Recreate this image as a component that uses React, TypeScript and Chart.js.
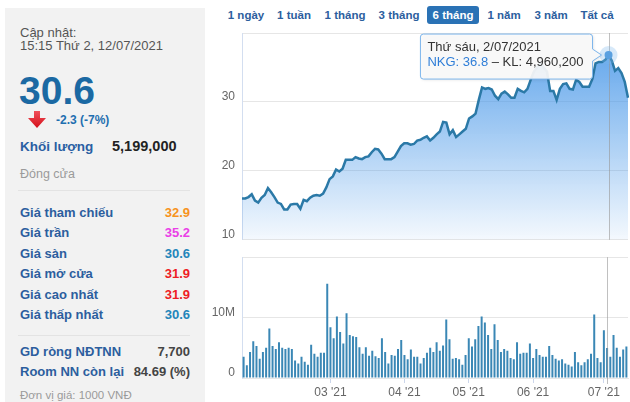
import React, { useEffect, useRef } from 'react';
import { Chart, registerables } from 'chart.js';

Chart.register(...registerables);

const FONT = '"Liberation Sans", Arial, Helvetica, sans-serif';

// ---------- data ----------
const YEAR = 2021;
const TICKER = 'NKG';
const JAN = [14, 15, 18, 19, 20, 21, 22, 25, 26, 27, 28, 29];
const FEB = [1, 2, 3, 4, 5, 8, 9, 17, 18, 19, 22, 23, 24, 25, 26];
const MAR = [1, 2, 3, 4, 5, 8, 9, 10, 11, 12, 15, 16, 17, 18, 19, 22, 23, 24, 25, 26, 29, 30, 31];
const APR = [1, 2, 5, 6, 7, 8, 9, 12, 13, 14, 15, 16, 19, 20, 22, 23, 26, 27, 28, 29];
const MAY = [4, 5, 6, 7, 10, 11, 12, 13, 14, 17, 18, 19, 20, 21, 24, 25, 26, 27, 28, 31];
const JUN = [1, 2, 3, 4, 7, 8, 9, 10, 11, 14, 15, 16, 17, 18, 21, 22, 23, 24, 25, 28, 29, 30];
const JUL = [1, 2, 5, 6, 7, 8, 9, 12];
const MONTH_DAYS: [number, number[]][] = [[1, JAN], [2, FEB], [3, MAR], [4, APR], [5, MAY], [6, JUN], [7, JUL]];

const PRICE = [
  16.0, 16.0, 16.2, 16.6, 15.7, 15.4, 16.1, 16.5, 17.5, 16.9,
  16.2, 15.4, 15.2, 14.4, 14.4, 15.1, 15.2, 15.2, 14.5, 15.8,
  15.6, 16.1, 16.4, 16.5, 16.4, 16.7, 17.6, 18.8, 19.2, 20.2,
  19.9, 20.3, 21.6, 21.6, 21.6, 22.0, 21.8, 21.7, 22.0, 22.1,
  22.7, 23.2, 23.1, 22.5, 21.7, 21.7, 21.7, 22.0, 22.8, 23.6,
  24.0, 24.0, 23.8, 23.9, 24.4, 24.5, 24.8, 25.0, 24.4, 24.8,
  25.3, 25.7, 27.1, 27.0, 25.3, 25.9, 24.9, 25.3, 25.7, 26.1,
  27.6, 27.9, 28.3, 30.3, 32.1, 31.9, 32.0, 31.8, 30.9, 30.4,
  31.2, 31.5, 31.1, 30.6, 30.6, 31.9, 31.6, 31.4, 31.9, 33.2,
  34.4, 35.0, 35.6, 35.0, 34.4, 31.6, 31.6, 30.3, 31.9, 32.6,
  32.7, 31.9, 31.8, 33.2, 32.9, 32.2, 32.2, 32.2, 33.3, 35.6,
  35.8, 35.8, 36.1, 36.8, 36.0, 34.5, 34.9, 34.2, 32.9, 30.6,
];

const VOLUME_M = [
  3.5, 2.1, 4.3, 6.1, 5.3, 3.2, 4.3, 5.0, 8.2, 5.3,
  4.8, 5.9, 5.0, 4.8, 5.0, 4.8, 2.9, 2.4, 3.5, 2.7,
  2.2, 5.5, 4.0, 3.5, 4.2, 4.2, 15.6, 8.4, 6.6, 10.2,
  7.6, 5.7, 10.7, 7.1, 6.9, 6.8, 5.1, 4.0, 5.1, 3.7,
  4.5, 3.6, 3.3, 6.6, 4.3, 2.4, 3.8, 3.7, 4.8, 6.3,
  3.8, 3.1, 4.7, 3.5, 3.5, 2.4, 3.3, 4.2, 5.0, 4.3,
  5.9, 4.5, 5.4, 9.7, 6.4, 3.2, 3.3, 3.1, 2.2, 3.8,
  6.6, 5.2, 6.4, 8.6, 10.2, 9.2, 7.1, 4.8, 8.9, 6.3,
  4.3, 4.8, 4.5, 3.3, 3.1, 5.9, 4.0, 4.2, 4.2, 5.7,
  3.3, 4.8, 3.8, 3.5, 3.5, 5.3, 3.8, 3.2, 2.9, 3.1,
  2.4, 2.2, 1.9, 4.3, 2.6, 2.1, 2.6, 3.1, 4.0, 10.5,
  3.3, 2.6, 7.9, 4.9602, 3.5, 7.1, 5.0, 3.5, 4.7, 5.2,
];

const PRICE_TICKS = [10, 20, 30];
const VOLUME_TICKS_M = [0, 10];
const MONTH_LABELS: Record<number, string> = { 3: "03 '21", 4: "04 '21", 5: "05 '21", 6: "06 '21", 7: "07 '21" };
const HOVER_MONTH = 7;
const HOVER_DAY = 2;
const DAY_NAMES = ['Chủ nhật', 'Thứ hai', 'Thứ ba', 'Thứ tư', 'Thứ năm', 'Thứ sáu', 'Thứ bảy'];

const RANGE_BUTTONS = ['1 ngày', '1 tuần', '1 tháng', '3 tháng', '6 tháng', '1 năm', '3 năm', 'Tất cả'];
const RANGE_SELECTED = '6 tháng';

const INFO_ROWS: [string, string, string][] = [
  ['Giá tham chiếu', '32.9', '#f7931e'],
  ['Giá trần', '35.2', '#ea3fe6'],
  ['Giá sàn', '30.6', '#2385ba'],
  ['Giá mở cửa', '31.9', '#ee1c25'],
  ['Giá cao nhất', '31.9', '#ee1c25'],
  ['Giá thấp nhất', '30.6', '#2385ba'],
];
const FOREIGN_ROWS: [string, string][] = [
  ['GD ròng NĐTNN', '7,700'],
  ['Room NN còn lại', '84.69 (%)'],
];

// ---------- derived ----------
const POINTS = MONTH_DAYS.flatMap(([m, days]) => days.map((d) => ({ m, d })));
const LABELS = POINTS.map((p) => `${p.d}/${String(p.m).padStart(2, '0')}/${YEAR}`);
const TICK_LABELS = POINTS.map((p, i) =>
  (i === 0 || POINTS[i - 1].m !== p.m) && MONTH_LABELS[p.m] ? MONTH_LABELS[p.m] : ''
);
const HOVER_INDEX = POINTS.findIndex((p) => p.m === HOVER_MONTH && p.d === HOVER_DAY);

const LINE_COLOR = '#2b79a7';
const BAR_COLOR = '#3a87b5';

function roundRectCallout(ctx: CanvasRenderingContext2D, l: number, t: number, w: number, h: number, r: number, py: number, tipX: number) {
  const rr = l + w;
  const b = t + h;
  ctx.beginPath();
  ctx.moveTo(l + r, t);
  ctx.lineTo(rr - r, t);
  ctx.quadraticCurveTo(rr, t, rr, t + r);
  ctx.lineTo(rr, py - 6);
  ctx.lineTo(tipX, py);
  ctx.lineTo(rr, py + 6);
  ctx.lineTo(rr, b - r);
  ctx.quadraticCurveTo(rr, b, rr - r, b);
  ctx.lineTo(l + r, b);
  ctx.quadraticCurveTo(l, b, l, b - r);
  ctx.lineTo(l, t + r);
  ctx.quadraticCurveTo(l, t, l + r, t);
  ctx.closePath();
}

const pricePlugin = {
  id: 'priceHover',
  afterDatasetsDraw(chart: any) {
    const { ctx, chartArea: a } = chart;
    const el = chart.getDatasetMeta(0).data[HOVER_INDEX];
    if (!el) return;
    const x = el.x;
    const y = el.y;
    ctx.save();
    ctx.strokeStyle = 'rgba(150,150,150,0.6)';
    ctx.lineWidth = 1;
    ctx.beginPath();
    ctx.moveTo(Math.round(x) + 0.5, a.top);
    ctx.lineTo(Math.round(x) + 0.5, a.bottom);
    ctx.stroke();

    ctx.fillStyle = 'rgba(124,181,236,0.3)';
    ctx.beginPath();
    ctx.arc(x, y, 9, 0, Math.PI * 2);
    ctx.fill();
    ctx.fillStyle = '#5aa0e0';
    ctx.beginPath();
    ctx.arc(x, y, 4, 0, Math.PI * 2);
    ctx.fill();

    // tooltip
    const p = POINTS[HOVER_INDEX];
    const dow = new Date(YEAR, p.m - 1, p.d).getDay();
    const title = `${DAY_NAMES[dow]}, ${LABELS[HOVER_INDEX]}`;
    const part1 = `${TICKER}: ${PRICE[HOVER_INDEX]}`;
    const part2 = ` \u2013 KL: ${Math.round(VOLUME_M[HOVER_INDEX] * 1e6).toLocaleString('en-US')}`;
    ctx.font = `13px ${FONT}`;
    const w2 = ctx.measureText(part1).width + ctx.measureText(part2).width;
    const w1 = ctx.measureText(title).width;
    const bw = Math.max(w1, w2) + 16;
    const bh = 45;
    const right = x - 16;
    const left = right - bw;
    const top = Math.max(a.top + 1, y - 21);
    ctx.shadowColor = 'rgba(0,0,0,0.12)';
    ctx.shadowOffsetX = 1;
    ctx.shadowOffsetY = 1;
    ctx.shadowBlur = 3;
    roundRectCallout(ctx, left, top, bw, bh, 3, y, x - 7);
    ctx.fillStyle = 'rgba(250,250,250,0.92)';
    ctx.fill();
    ctx.shadowColor = 'transparent';
    ctx.strokeStyle = '#7cb5ec';
    ctx.lineWidth = 1;
    ctx.stroke();

    ctx.textBaseline = 'middle';
    ctx.textAlign = 'left';
    ctx.fillStyle = '#333333';
    ctx.fillText(title, left + 7, top + 13.5);
    ctx.fillStyle = '#2f7ed8';
    ctx.fillText(part1, left + 7, top + 28.5);
    const pw = ctx.measureText(part1).width;
    ctx.fillStyle = '#333333';
    ctx.fillText(part2, left + 7 + pw, top + 28.5);
    ctx.restore();
  },
};

const volumePlugin = {
  id: 'volumeHover',
  afterDatasetsDraw(chart: any) {
    const { ctx, chartArea: a } = chart;
    const el = chart.getDatasetMeta(0).data[HOVER_INDEX];
    if (!el) return;
    ctx.save();
    ctx.strokeStyle = 'rgba(150,150,150,0.6)';
    ctx.lineWidth = 1;
    ctx.beginPath();
    ctx.moveTo(Math.round(el.x) + 0.5, a.top);
    ctx.lineTo(Math.round(el.x) + 0.5, a.bottom + 6);
    ctx.stroke();
    ctx.restore();
  },
};

function Txt(props: { x: number; y: number; size: number; color: string; bold?: boolean; right?: boolean; children: React.ReactNode }) {
  const h = Math.round(props.size * 1.3);
  const style: React.CSSProperties = {
    position: 'absolute',
    top: props.y - h / 2,
    height: h,
    lineHeight: `${h}px`,
    fontSize: props.size,
    color: props.color,
    fontWeight: props.bold ? 'bold' : 'normal',
    whiteSpace: 'nowrap',
  };
  if (props.right) style.right = 630 - props.x;
  else style.left = props.x;
  return <div style={style}>{props.children}</div>;
}

export default function App() {
  const priceRef = useRef<HTMLCanvasElement | null>(null);
  const volRef = useRef<HTMLCanvasElement | null>(null);

  useEffect(() => {
    if (!priceRef.current || !volRef.current) return;
    const priceChart = new Chart(priceRef.current, {
      type: 'line',
      data: {
        labels: LABELS,
        datasets: [
          {
            data: PRICE,
            borderColor: LINE_COLOR,
            borderWidth: 2.5,
            pointRadius: 0,
            tension: 0,
            fill: 'start',
            backgroundColor: (c: any) => {
              const a = c.chart.chartArea;
              if (!a) return 'rgba(74,152,232,0.4)';
              const g = c.chart.ctx.createLinearGradient(0, a.top, 0, a.bottom);
              g.addColorStop(0, 'rgba(70,150,232,0.9)');
              g.addColorStop(1, 'rgba(70,150,232,0.06)');
              return g;
            },
          },
        ],
      },
      options: {
        animation: false,
        responsive: false,
        maintainAspectRatio: false,
        layout: { padding: { top: 33, bottom: 0, right: 2, left: 0 } },
        plugins: { legend: { display: false }, tooltip: { enabled: false } },
        scales: {
          x: { display: false, offset: false },
          y: {
            min: 10,
            max: 40,
            afterFit: (s: any) => {
              s.width = 32;
            },
            ticks: {
              stepSize: 10,
              padding: 7,
              labelOffset: -5,
              color: '#666666',
              font: { size: 12, family: FONT },
              callback: (v: any) => (PRICE_TICKS.includes(Number(v)) ? String(v) : ''),
            },
            grid: { color: '#e6e6e6', drawTicks: false },
            border: { display: true, color: '#d3def0' },
          },
        },
      },
      plugins: [pricePlugin],
    } as any);

    const volChart = new Chart(volRef.current, {
      type: 'bar',
      data: {
        labels: LABELS,
        datasets: [
          {
            data: VOLUME_M.map((v) => v * 1e6),
            backgroundColor: BAR_COLOR,
            barPercentage: 0.62,
            categoryPercentage: 1,
          },
        ],
      },
      options: {
        animation: false,
        responsive: false,
        maintainAspectRatio: false,
        layout: { padding: { top: 0, bottom: 0, right: 2, left: 0 } },
        plugins: { legend: { display: false }, tooltip: { enabled: false } },
        scales: {
          x: {
            offset: true,
            afterFit: (s: any) => {
              s.height = 24;
            },
            ticks: {
              autoSkip: false,
              maxRotation: 0,
              padding: 2,
              color: '#666666',
              font: { size: 12, family: FONT },
              callback: (_v: any, i: number) => TICK_LABELS[i],
            },
            grid: {
              offset: false,
              drawOnChartArea: false,
              drawTicks: true,
              tickLength: 5,
              color: (c: any) => (TICK_LABELS[c.index] ? '#ccd6eb' : 'transparent'),
            },
            border: { display: true, color: '#e6e6e6' },
          },
          y: {
            min: 0,
            max: 20e6,
            afterFit: (s: any) => {
              s.width = 32;
            },
            ticks: {
              stepSize: 10e6,
              padding: 7,
              labelOffset: -5,
              color: '#666666',
              font: { size: 12, family: FONT },
              callback: (v: any) => {
                const m = Number(v) / 1e6;
                if (!VOLUME_TICKS_M.includes(m)) return '';
                return m === 0 ? '0' : `${m}M`;
              },
            },
            grid: { color: '#e6e6e6', drawTicks: false },
            border: { display: true, color: '#d3def0' },
          },
        },
      },
      plugins: [volumePlugin],
    } as any);

    return () => {
      priceChart.destroy();
      volChart.destroy();
    };
  }, []);

  const btnX = [246, 294, 345, 399, 453, 504, 551, 597];

  return (
    <div
      style={{
        position: 'absolute',
        left: 0,
        top: 0,
        width: 630,
        height: 402,
        overflow: 'hidden',
        background: '#ffffff',
        fontFamily: FONT,
      }}
    >
      {/* left info panel */}
      <div style={{ position: 'absolute', left: 5, top: 8, width: 200, height: 400, background: '#f2f2f2' }} />
      <Txt x={20} y={32} size={13} color="#555555">Cập nhật:</Txt>
      <Txt x={20} y={45} size={13} color="#555555">15:15 Thứ 2, 12/07/2021</Txt>
      <Txt x={19} y={90} size={39} color="#1b69a3" bold>30.6</Txt>
      <svg style={{ position: 'absolute', left: 28, top: 111 }} width={20} height={19}>
        <defs>
          <linearGradient id="arr" x1="0" y1="0" x2="0" y2="1">
            <stop offset="0" stopColor="#f0505a" />
            <stop offset="1" stopColor="#d40f1a" />
          </linearGradient>
        </defs>
        <polygon points="6,0 12,0 12,7 18,7 9,17 0,7 6,7" fill="url(#arr)" />
      </svg>
      <Txt x={56} y={120} size={12} color="#1f6fb0" bold>-2.3 (-7%)</Txt>
      <Txt x={20} y={147} size={13.5} color="#2a5fa3" bold>Khối lượng</Txt>
      <Txt x={112} y={146} size={14.5} color="#222222" bold>5,199,000</Txt>
      <Txt x={20} y={174} size={12.5} color="#9a9a9a">Đóng cửa</Txt>
      <div style={{ position: 'absolute', left: 18, top: 190, width: 172, height: 1, background: '#e3e3e3' }} />
      {INFO_ROWS.map(([label, value, color], i) => (
        <React.Fragment key={label}>
          <Txt x={20} y={212 + i * 20.5} size={13} color="#2c5e9e" bold>{label}</Txt>
          <Txt x={190} y={212 + i * 20.5} size={13} color={color} bold right>{value}</Txt>
        </React.Fragment>
      ))}
      <div style={{ position: 'absolute', left: 18, top: 335, width: 172, height: 1, background: '#e3e3e3' }} />
      {FOREIGN_ROWS.map(([label, value], i) => (
        <React.Fragment key={label}>
          <Txt x={20} y={351 + i * 20} size={13} color="#2c5e9e" bold>{label}</Txt>
          <Txt x={190} y={351 + i * 20} size={13} color="#444444" bold right>{value}</Txt>
        </React.Fragment>
      ))}
      <Txt x={20} y={395} size={11.5} color="#9a9a9a">Đơn vị giá: 1000 VNĐ</Txt>

      {/* range buttons */}
      {RANGE_BUTTONS.map((b, i) => {
        const sel = b === RANGE_SELECTED;
        return (
          <div
            key={b}
            style={{
              position: 'absolute',
              left: btnX[i] - 26,
              width: 52,
              top: 6,
              height: 18,
              lineHeight: '18px',
              textAlign: 'center',
              fontSize: 11.5,
              fontWeight: 'bold',
              color: sel ? '#ffffff' : '#2c5e9e',
              background: sel ? '#2a72b5' : 'transparent',
              borderRadius: 3,
              whiteSpace: 'nowrap',
            }}
          >
            {b}
          </div>
        );
      })}

      <canvas
        ref={priceRef}
        width={420}
        height={254}
        style={{ position: 'absolute', left: 210, top: 0, width: 420, height: 254 }}
      />
      <canvas
        ref={volRef}
        width={420}
        height={159}
        style={{ position: 'absolute', left: 210, top: 243, width: 420, height: 159 }}
      />
    </div>
  );
}
